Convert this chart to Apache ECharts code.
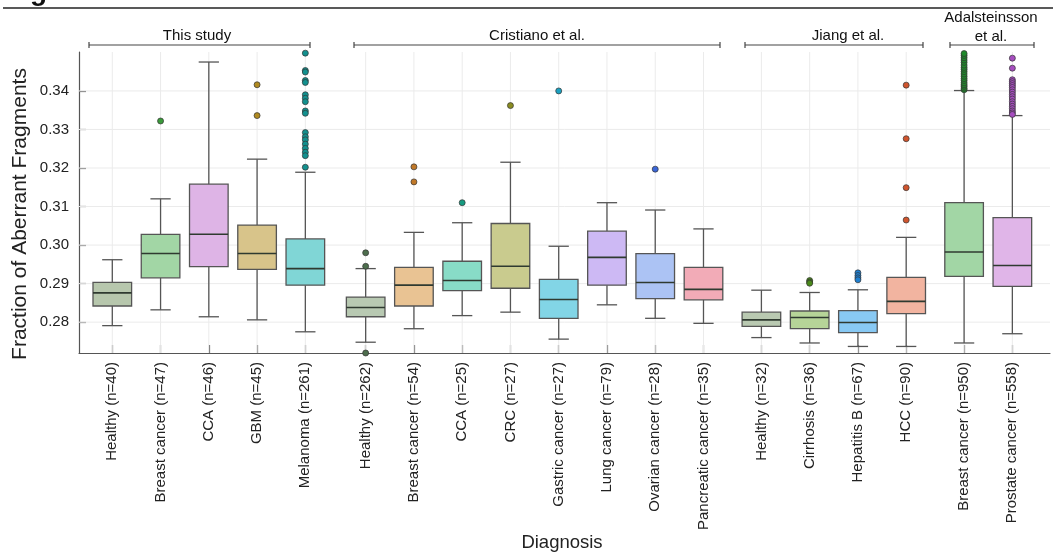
<!DOCTYPE html>
<html>
<head>
<meta charset="utf-8">
<script src="https://cdn.jsdelivr.net/npm/echarts@6/dist/echarts.min.js"></script>
<style>
html,body{margin:0;padding:0;background:#fff;}
#chart{width:1053px;height:555px;}
</style>
</head>
<body>
<div id="chart"></div>
<script>
// ---- data ----
const labels = [
  'Healthy (n=40)','Breast cancer (n=47)','CCA (n=46)','GBM (n=45)','Melanoma (n=261)',
  'Healthy (n=262)','Breast cancer (n=54)','CCA (n=25)','CRC (n=27)','Gastric cancer (n=27)','Lung cancer (n=79)','Ovarian cancer (n=28)','Pancreatic cancer (n=35)',
  'Healthy (n=32)','Cirrhosis (n=36)','Hepatitis B (n=67)','HCC (n=90)',
  'Breast cancer (n=950)','Prostate cancer (n=558)'
];
const positions = [0,1,2,3,4, 5.25,6.25,7.25,8.25,9.25,10.25,11.25,12.25, 13.45,14.45,15.45,16.45, 17.65,18.65];
const groupNames = ['This study','Cristiano et al.','Jiang et al.','Adalsteinsson\net al.'];
const yTicks = [0.28,0.29,0.30,0.31,0.32,0.33,0.34];

const lowWhisker = [0.2791,0.2832,0.2814,0.2806,0.2775, 0.2748,0.2783,0.2817,0.2826,0.2756,0.2845,0.2810,0.2797, 0.2760,0.2746,0.2737,0.2737, 0.2746,0.2770];
const q1 =         [0.2842,0.2915,0.2944,0.2937,0.2896, 0.2814,0.2842,0.2882,0.2888,0.2810,0.2896,0.2861,0.2858, 0.2789,0.2783,0.2773,0.2822, 0.2919,0.2893];
const median =     [0.2876,0.2978,0.3028,0.2978,0.2939, 0.2838,0.2896,0.2908,0.2945,0.2859,0.2968,0.2903,0.2885, 0.2806,0.2812,0.2799,0.2854, 0.2982,0.2947];
const q3 =         [0.2903,0.3028,0.3158,0.3052,0.3016, 0.2865,0.2942,0.2958,0.3056,0.2911,0.3036,0.2978,0.2942, 0.2826,0.2829,0.2830,0.2916, 0.3110,0.3071];
const highWhisker= [0.2962,0.3120,0.3475,0.3223,0.3189, 0.2939,0.3033,0.3058,0.3215,0.2997,0.3110,0.3091,0.3042, 0.2883,0.2877,0.2884,0.3020, 0.3401,0.3336];

const outliers = [
  [],
  [0.3322],
  [],
  [0.3416,0.3336],
  [0.3498,0.3453,0.3449,0.3427,0.3422,0.3390,0.3381,0.3372,0.3348,0.3342,0.3292,0.3281,0.3273,0.3262,0.3251,0.3241,0.3232,0.3202],
  [0.2980,0.2945,0.2720],
  [0.3203,0.3164],
  [0.3110],
  [0.3362],
  [0.3400],
  [],
  [0.3197],
  [],
  [],
  [0.2908,0.2904,0.2901],
  [0.2928,0.2921,0.2915,0.2910],
  [0.3415,0.3276,0.3149,0.3065],
  [0.3403,0.3407,0.3412,0.3416,0.3421,0.3427,0.3432,0.3438,0.3444,0.3450,0.3456,0.3461,0.3467,0.3474,0.3480,0.3486,0.3492,0.3497,0.3502],
  [0.3502,0.3485,0.3459,0.3429,0.3424,0.3419,0.3414,0.3409,0.3403,0.3397,0.3391,0.3385,0.3379,0.3372,0.3366,0.3360,0.3354,0.3348,0.3343,0.3339]
];

// ---- styles ----
const boxColors = ['#b7c7ad','#a2d6a5','#deb4e6','#d8c48a','#80d6d6',
  '#b8c9b2','#e9c393','#88dcc7','#c9cb8e','#82d5e6','#cdb9f4','#acc3f4','#f2abb7',
  '#b9c9b1','#b6d498','#88c9f4','#f2b4a0',
  '#a2d6a5','#e0b5e8'];
const outlierColors = ['#6b8a60','#3a9a3a','#b04ab8','#b08a20','#12908e',
  '#4d6e4d','#c07828','#169a80','#8a8c20','#1aa0c0','#7a58d0','#3a66d8','#d05068',
  '#5a7a50','#4a8a1a','#1f7fd0','#d0552e',
  '#1f8a2a','#a64dbf'];

const boxData = positions.map((p,i)=>[p, lowWhisker[i], q1[i], median[i], q3[i], highWhisker[i], i]);
const outlierData = [];
outliers.forEach((arr,i)=>arr.forEach(v=>outlierData.push({value:[positions[i], v], itemStyle:{color: outlierColors[i]}})));

const FONT = '"Liberation Sans", Arial, Helvetica, sans-serif';

function labelFor(v){
  let best = 0, d = 1e9;
  positions.forEach((p,i)=>{ const dd = Math.abs(p-v); if (dd<d){d=dd;best=i;} });
  return labels[best];
}

const chart = echarts.init(document.getElementById('chart'), null, {renderer:'canvas'});

const option = {
  animation:false,
  backgroundColor:'#ffffff',
  grid:{left:79, right:3, top:52, bottom:202, containLabel:false},
  xAxis:{
    type:'value', min:-0.69, max:19.43,
    axisLine:{show:true, onZero:false, lineStyle:{color:'#555', width:1.2}},
    axisTick:{show:true, inside:true, length:8, customValues: positions, lineStyle:{color:'#555', width:1.2}},
    axisLabel:{show:true, customValues: positions, rotate:90, margin:9, fontSize:15, color:'#222', fontFamily:FONT,
      formatter:(v)=>labelFor(v)},
    splitLine:{show:false}
  },
  yAxis:{
    type:'value', min:0.272, max:0.3501,
    axisLine:{show:true, onZero:false, lineStyle:{color:'#555', width:1.2}},
    axisTick:{show:true, inside:true, length:7, customValues: yTicks, lineStyle:{color:'#555', width:1.2}},
    axisLabel:{show:true, customValues: yTicks, margin:10, fontSize:15, color:'#222', fontFamily:FONT,
      formatter:(v)=>v.toFixed(2)},
    splitLine:{show:false}
  },
  series:[
    {
      // grid lines at each diagnosis position and each y tick
      type:'custom',
      data: positions.map((p,i)=>[p, yTicks[i] !== undefined ? yTicks[i] : NaN]),
      encode:{x:0, y:1},
      silent:true,
      z:1,
      renderItem:function(params, api){
        const cs = params.coordSys;
        const x = api.coord([api.value(0), 0.3])[0];
        const children = [{type:'line', shape:{x1:x, y1:cs.y, x2:x, y2:cs.y+cs.height}, style:{stroke:'#ebebeb', lineWidth:1}}];
        const yv = api.value(1);
        if (!isNaN(yv)) {
          const y = api.coord([0, yv])[1];
          children.push({type:'line', shape:{x1:cs.x, y1:y, x2:cs.x+cs.width, y2:y}, style:{stroke:'#ebebeb', lineWidth:1}});
        }
        return {type:'group', children};
      }
    },
    {
      type:'custom',
      data: boxData,
      encode:{x:0, y:[1,2,3,4,5]},
      clip:true,
      z:3,
      renderItem:function(params, api){
        const x = api.value(0);
        const idx = api.value(6);
        const lo = api.coord([x, api.value(1)]);
        const b1 = api.coord([x, api.value(2)]);
        const md = api.coord([x, api.value(3)]);
        const b3 = api.coord([x, api.value(4)]);
        const hi = api.coord([x, api.value(5)]);
        const bw = api.size([0.8, 0])[0];
        const cw = api.size([0.42, 0])[0];
        const cx = lo[0];
        const ls = {stroke:'#555', lineWidth:1.3};
        return {
          type:'group',
          children:[
            {type:'line', shape:{x1:cx, y1:lo[1], x2:cx, y2:b1[1]}, style:ls},
            {type:'line', shape:{x1:cx, y1:b3[1], x2:cx, y2:hi[1]}, style:ls},
            {type:'line', shape:{x1:cx-cw/2, y1:lo[1], x2:cx+cw/2, y2:lo[1]}, style:ls},
            {type:'line', shape:{x1:cx-cw/2, y1:hi[1], x2:cx+cw/2, y2:hi[1]}, style:ls},
            {type:'rect', shape:{x:cx-bw/2, y:b3[1], width:bw, height:b1[1]-b3[1]},
              style:{fill:boxColors[idx], stroke:'#555', lineWidth:1.3}},
            {type:'line', shape:{x1:cx-bw/2, y1:md[1], x2:cx+bw/2, y2:md[1]}, style:{stroke:'#2f3a30', lineWidth:1.6}}
          ]
        };
      }
    },
    {
      type:'scatter',
      data: outlierData,
      symbol:'circle',
      symbolSize:6,
      clip:true,
      z:4,
      itemStyle:{borderColor:'#333', borderWidth:0.7, opacity:1}
    }
  ],
  graphic:[
    {type:'line', shape:{x1:3, y1:8, x2:1053, y2:8}, style:{stroke:'#222', lineWidth:1.3}},
    {type:'text', left:30, top:-22, style:{text:'g', font:'bold 28px '+FONT, fill:'#111'}},
    // brackets
    {type:'line', shape:{x1:89, y1:45, x2:310, y2:45}, style:{stroke:'#444', lineWidth:1.2}},
    {type:'line', shape:{x1:89, y1:42, x2:89, y2:48}, style:{stroke:'#444', lineWidth:1.2}},
    {type:'line', shape:{x1:310, y1:42, x2:310, y2:48}, style:{stroke:'#444', lineWidth:1.2}},
    {type:'line', shape:{x1:354, y1:45, x2:720, y2:45}, style:{stroke:'#444', lineWidth:1.2}},
    {type:'line', shape:{x1:354, y1:42, x2:354, y2:48}, style:{stroke:'#444', lineWidth:1.2}},
    {type:'line', shape:{x1:720, y1:42, x2:720, y2:48}, style:{stroke:'#444', lineWidth:1.2}},
    {type:'line', shape:{x1:745, y1:45, x2:923, y2:45}, style:{stroke:'#444', lineWidth:1.2}},
    {type:'line', shape:{x1:745, y1:42, x2:745, y2:48}, style:{stroke:'#444', lineWidth:1.2}},
    {type:'line', shape:{x1:923, y1:42, x2:923, y2:48}, style:{stroke:'#444', lineWidth:1.2}},
    {type:'line', shape:{x1:950, y1:45, x2:1034, y2:45}, style:{stroke:'#444', lineWidth:1.2}},
    {type:'line', shape:{x1:950, y1:42, x2:950, y2:48}, style:{stroke:'#444', lineWidth:1.2}},
    {type:'line', shape:{x1:1034, y1:42, x2:1034, y2:48}, style:{stroke:'#444', lineWidth:1.2}},
    {type:'text', x:197, y:36, style:{text:groupNames[0], font:'15px '+FONT, fill:'#111', textAlign:'center', textVerticalAlign:'middle'}},
    {type:'text', x:537, y:36, style:{text:groupNames[1], font:'15px '+FONT, fill:'#111', textAlign:'center', textVerticalAlign:'middle'}},
    {type:'text', x:848, y:36, style:{text:groupNames[2], font:'15px '+FONT, fill:'#111', textAlign:'center', textVerticalAlign:'middle'}},
    {type:'text', x:991, y:27, style:{text:groupNames[3], font:'15px '+FONT, fill:'#111', textAlign:'center', textVerticalAlign:'middle', lineHeight:19}},
    // axis titles
    {type:'text', x:20, y:214, rotation:Math.PI/2, style:{text:'Fraction of Aberrant Fragments', font:'21px '+FONT, fill:'#222', textAlign:'center', textVerticalAlign:'middle'}},
    {type:'text', x:562, y:543, style:{text:'Diagnosis', font:'18.5px '+FONT, fill:'#222', textAlign:'center', textVerticalAlign:'middle'}}
  ]
};
chart.setOption(option);
</script>
</body>
</html>
